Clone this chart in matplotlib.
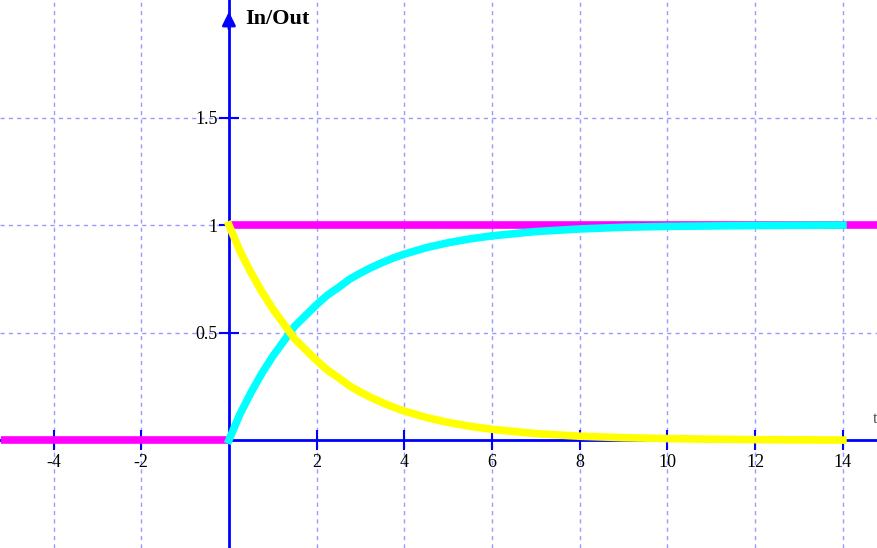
import numpy as np
import matplotlib.pyplot as plt

# input step (magenta)
in_t_before = [-5.2, 0]
in_before = [0, 0]
in_t_after = [0, 15]
in_after = [1, 1]

# responses
t = [0, 0.25, 0.5, 0.75, 1, 1.25, 1.5, 1.75, 2, 2.25, 2.5, 2.75, 3, 3.25,
     3.5, 3.75, 4, 4.5, 5, 5.5, 6, 7, 8, 9, 10, 11, 12, 13, 14]
out_rise = [0, 0.12, 0.22, 0.31, 0.39, 0.46, 0.53, 0.58, 0.63, 0.675, 0.71,
            0.748, 0.777, 0.803, 0.826, 0.847, 0.865, 0.895, 0.918, 0.936, 0.95,
            0.97, 0.982, 0.99, 0.994, 0.996, 0.998, 0.999, 1.0]
out_decay = [1, 0.88, 0.78, 0.69, 0.61, 0.54, 0.47, 0.42, 0.37, 0.325, 0.29,
             0.252, 0.223, 0.197, 0.174, 0.153, 0.135, 0.105, 0.082, 0.064, 0.05,
             0.03, 0.018, 0.011, 0.007, 0.004, 0.002, 0.001, 0.0]

xticks = [-4, -2, 2, 4, 6, 8, 10, 12, 14]
yticks = [0.5, 1, 1.5]

plt.rcParams['font.family'] = ['Liberation Serif', 'DejaVu Serif']

fig = plt.figure(figsize=(8.78, 5.48), dpi=100)
ax = fig.add_axes([0, 0, 1, 1])
ax.set_xlim(-5.22, 14.8)
ax.set_ylim(-0.502, 2.047)

ax.spines['left'].set_position(('data', 0))
ax.spines['bottom'].set_position(('data', 0))
ax.spines['top'].set_visible(False)
ax.spines['right'].set_visible(False)
for s in ('left', 'bottom'):
    ax.spines[s].set_color('#0000ff')
    ax.spines[s].set_linewidth(2)

ax.set_xticks(xticks)
ax.set_xticklabels([str(v) for v in xticks])
ax.set_yticks(yticks)
ax.set_yticklabels(['0.5', '1', '1.5'])
ax.tick_params(direction='inout', length=14, width=1.5, color='#0000ff',
               labelsize=13, pad=1)
ax.tick_params(axis='x', pad=3)

ax.grid(True, color='#9999ff', linestyle=(0, (3, 3)), linewidth=1)
ax.set_axisbelow(True)

ax.plot(in_t_before, in_before, color='#ff00ff', linewidth=5.5,
        solid_capstyle='butt', zorder=3)
ax.plot(in_t_after, in_after, color='#ff00ff', linewidth=5.5,
        solid_capstyle='butt', zorder=3)
ax.plot(t, out_rise, color='#00ffff', linewidth=5.5, zorder=4)
ax.plot(t, out_decay, color='#ffff00', linewidth=5.5, zorder=5)

# arrow on top of y axis
ax.annotate('', xy=(0, 2.005), xytext=(0, 1.9),
            arrowprops=dict(arrowstyle='-|>', color='#0000ff', lw=2,
                            mutation_scale=20))

ax.text(0.38, 1.96, 'In/Out', fontsize=16, fontweight='bold',
        ha='left', va='center')
ax.text(14.68, 0.10, 't', fontsize=12, ha='left', va='center', color='#555555')

fig.savefig('out.png', dpi=100)
